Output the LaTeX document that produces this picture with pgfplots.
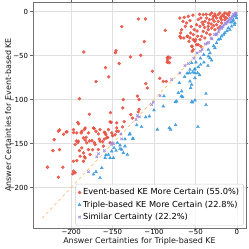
\documentclass[border=0pt]{standalone}
\usepackage{fontspec}
\setmainfont{DejaVu Sans}
\usepackage{pgfplots}
\pgfplotsset{compat=1.18}
\definecolor{cred}{RGB}{231,76,60}
\definecolor{cblue}{RGB}{52,152,219}
\definecolor{cpurp}{RGB}{155,140,225}
\definecolor{cdiag}{RGB}{255,190,120}
\begin{document}
\begin{tikzpicture}
\begin{axis}[
 scale only axis, width=213bp, height=226bp,
 xmin=-246, xmax=11, ymin=-246, ymax=11,
 xtick={-200,-150,-100,-50,0}, xticklabels={\mbox{−200},\mbox{−150},\mbox{−100},\mbox{−50},\mbox{0}},
 ytick={-200,-150,-100,-50,0}, yticklabels={\mbox{−200},\mbox{−150},\mbox{−100},\mbox{−50},\mbox{0}},
 tick align=outside, major tick length=2.5bp,
 tick style={black!60, line width=0.6bp},
 grid=major, major grid style={black!12, line width=0.6bp},
 axis line style={black!55, line width=0.7bp},
 ticklabel style={font=\fontsize{7}{8}\selectfont, text=black},
 xticklabel style={yshift=5bp},
 yticklabel style={xshift=1bp},
 xlabel={Answer Certainties for Triple-based KE},
 ylabel={Answer Certainties for Event-based KE},
 label style={font=\fontsize{8}{9.6}\selectfont, text=black!90},
 xlabel style={at={(axis description cs:0.5,-0.06)}, anchor=center},
 ylabel style={at={(axis description cs:-0.117,0.5)}, anchor=center},
 legend style={at={(0.99,0.01)}, anchor=south east, font=\fontsize{8.3}{10}\selectfont,
   draw=black!20, rounded corners=2bp, fill=white, fill opacity=0.8, text opacity=1,
   row sep=0.6bp, inner sep=2.5bp},
 legend cell align=left,
 legend image code/.code={\draw[mark repeat=2,mark phase=2,#1] plot coordinates {(0bp,0bp) (6bp,0bp) (15bp,0bp)};},
]
\addplot[cdiag, dashed, line width=0.7bp, forget plot] coordinates {(-235,-235) (0,0)};
\addplot[only marks, mark=*, mark size=1.5bp, mark options={fill=cred, draw=cred, fill opacity=0.85, draw opacity=0.85}] table {
x y
-68.7 -7.2
-63.5 -6.4
-58.6 -5.3
-56.6 -10.2
-60.6 -12.9
-62.2 -16.7
-66.7 -20.5
-68.7 -28
-67.5 -29.9
-59.4 -28
-56.6 -29.9
-52.6 -26.1
-51.4 -20.5
-48.6 -14.8
-46.6 -9.1
-43.4 -7.2
-40.6 -3.4
-38.6 -11
-36.5 -7.2
-34.5 -12.9
-32.5 -3.4
-30.5 -1.5
-28.5 -5.3
-26.5 -2.7
-24.5 -7.2
-22.5 -3.4
-20.5 -1.5
-18.5 -5.3
-16.5 -3.4
-14.5 -1.5
-27.3 -11
-24.5 -14.8
-30.5 -18.6
-34.5 -20.5
-36.5 -24.2
-40.6 -22.3
-42.6 -28
-44.6 -31.8
-46.6 -37.5
-43.4 -39.4
-38.6 -29.9
-32.5 -26.1
-26.5 -20.5
-22.5 -18.6
-18.5 -12.9
-14.5 -9.1
-12.4 -7.2
-50.6 -33.7
-48.6 -37.5
-44.6 -16.7
-40.6 -14.8
-34.5 -16.7
-22.5 -11
-18.5 -9.1
-47.4 -28
-52.6 -31.8
-12 -2.5
-10 -4
-9 -1
-20 -7
-29 -8.5
-33 -9
-37 -3
-42 -12
-53 -4
-45 -3
-26 -5
-15 -6
-31 -14
-39 -18
-48 -22
-55 -17
-65 -11
-28 -16
-20 -17
-67.8 -24.2
-59.9 -28
-55.8 -24.2
-57.8 -33.7
-53.9 -39.4
-49.8 -31.8
-63.9 -29.9
-53.9 -45
-54.6 -39.4
-52.6 -43.2
-84 -52.6
-80.7 -52.6
-118.9 -8.3
-110.5 -8.3
-139 -17
-86.4 -21.2
-111.7 -34
-145.8 -44.3
-146.6 -46.6
-116 -49.6
-128.5 -51.5
-142 -59
-158.6 -63.6
-83 -51.5
-83.5 -55
-84 -57.5
-81.5 -58
-102 -67.8
-93 -75.8
-88.8 -79.2
-85.2 -79.2
-154.6 -74.2
-184.7 -45.8
-169.9 -79.5
-190 -98.9
-137 -100
-178 -116.7
-152.6 -114.8
-137.7 -109.5
-192 -125.8
-151.8 -125.8
-145 -126.5
-136 -125
-110 -81.8
-108 -86.7
-120 -96
-118 -100
-118 -111
-119 -114
-128 -117
-126 -121
-191 -127.5
-184 -134
-214 -134.5
-205 -136.7
-209 -139.4
-197 -137.5
-188 -137.9
-172 -133
-170 -136
-167 -139
-160 -137
-158 -140
-153 -125.4
-220.5 -145.5
-193.6 -147
-192 -149
-182 -142.8
-183 -146
-178 -147
-175 -146.6
-172 -149
-166 -145
-162 -148
-160 -145
-156 -143
-150 -141
-147 -140
-145 -136
-197.2 -134.1
-193.2 -137.9
-187.1 -136
-183.1 -132.2
-179.1 -137.9
-173.1 -132.2
-165.1 -134.1
-159 -137.9
-155 -134.1
-151 -137.9
-145 -132.2
-143 -136
-138 -131
-185.1 -143.6
-181.1 -149.2
-171.1 -151.1
-165.1 -147.3
-161 -153
-157 -143.6
-153 -149.2
-167.1 -156.8
-179.1 -156.8
-187.1 -154.9
-191.2 -147.3
-185.1 -160.6
-177.1 -162.5
-195.2 -151.1
-190 -158
-183.1 -166.3
-189.2 -164.4
-222 -158
-214 -156.8
-197.2 -170.1
-193.2 -169.3
-185.1 -170.1
-228.5 -176.9
-210 -176.9
-197.2 -181.4
-198 -184.5
-195.2 -183.3
-215.3 -188.3
-215.3 -136
-206 -136.7
-174 -157
-184 -165
};
\addlegendentry{Event-based KE More Certain (55.0\%)}
\addplot[only marks, mark=triangle*, mark size=1.7bp, mark options={fill=cblue, draw=cblue, fill opacity=0.85, draw opacity=0.85}] table {
x y
-46.6 -62.9
-50.6 -65.2
-53.4 -68.9
-56.6 -65.9
-47.4 -69.7
-69.5 -81
-70.7 -92.4
-66.7 -90.5
-55.8 -86.7
-54.6 -83
-72.7 -101.9
-74.3 -102.7
-53.4 -103
-88.8 -107.6
-105.6 -118.9
-96 -134
-81.5 -132.2
-79.9 -134
-125.7 -144.3
-129.7 -139.8
-141 -156
-54.6 -58.3
-49.4 -57.6
-43.8 -60.2
-39.8 -57.6
-34.9 -61.4
-30.5 -55.3
-51.4 -65.9
-50.6 -69.7
-57.4 -69.7
-50.6 -75.4
-56.6 -79.2
-65.5 -97
-67.1 -96.2
-37.3 -93.2
-54.6 -102.6
-50.6 -100.8
-37.3 -106
-47 -131
-4.4 -9.1
-2.4 -12.9
-6.4 -16.7
-8.4 -20.5
-10.4 -18.6
-14.5 -24.2
-18.5 -28
-22.5 -31.8
-24.5 -35.6
-32.5 -47
-26.5 -41.3
-34.5 -43.2
-2.4 -5.3
-0.4 -7.2
-34.5 -50.8
-32.5 -52.7
-144.2 -149.2
-148.2 -154.9
-145.8 -158
-151 -158.7
-155 -162.5
-159 -166.3
-153 -166.3
-149 -166.3
-158 -163
-163 -177.7
-165.1 -189
-173 -185
-141 -151.9
-139 -156.8
-135 -153
-137 -160.6
-132.1 -162.5
-73.9 -129
-120.8 -129
-129 -138.6
-125.3 -144.3
-5 -11
-3 -15
-12 -22
-1 -3.5
-7 -12
-20 -31
-28 -39
-16 -26
-40 -49
-44 -53
-60 -70
-63 -74
-45 -72
-88 -96
-100 -112
-110 -120
-115 -131
-135 -145
-170 -182
};
\addlegendentry{Triple-based KE More Certain (22.8\%)}
\addplot[only marks, mark=x, mark size=1.7bp, mark options={draw=cpurp, line width=0.9bp, draw opacity=0.9}] table {
x y
-179 -182
-169 -165
-167 -161.5
-160 -158
-151 -151
-151 -149
-149 -150
-140 -139
-139 -144.7
-121.7 -122.7
-120.1 -118.2
-117.7 -119.7
-102.8 -105.7
-100.8 -103
-92.7 -95.5
-78.7 -77.3
-68.7 -69.7
-62.7 -61.4
-58.6 -59.1
-52 -53
-48 -47
-42 -43
-38 -37
-34 -35
-30 -31
-27 -26
-24 -25
-21 -20
-18 -19
-16 -15
-13 -14
-11 -10
-9 -9
-7 -8
-5 -5
-4 -3
-2 -2
-1 -1.5
-3 -4
-6 -6
-8 -7.5
-12 -12
-14 -13
-19 -18
-22 -23
-17 -17
-10 -11.5
-25 -26.5
-31 -30
-36 -36
-44 -45
};
\addlegendentry{Similar Certainty (22.2\%)}
\end{axis}
\pgfresetboundingbox
\path[use as bounding box] ([xshift=-33bp,yshift=-21bp]current axis.south west) rectangle ++(249bp,249bp);
\end{tikzpicture}
\end{document}
